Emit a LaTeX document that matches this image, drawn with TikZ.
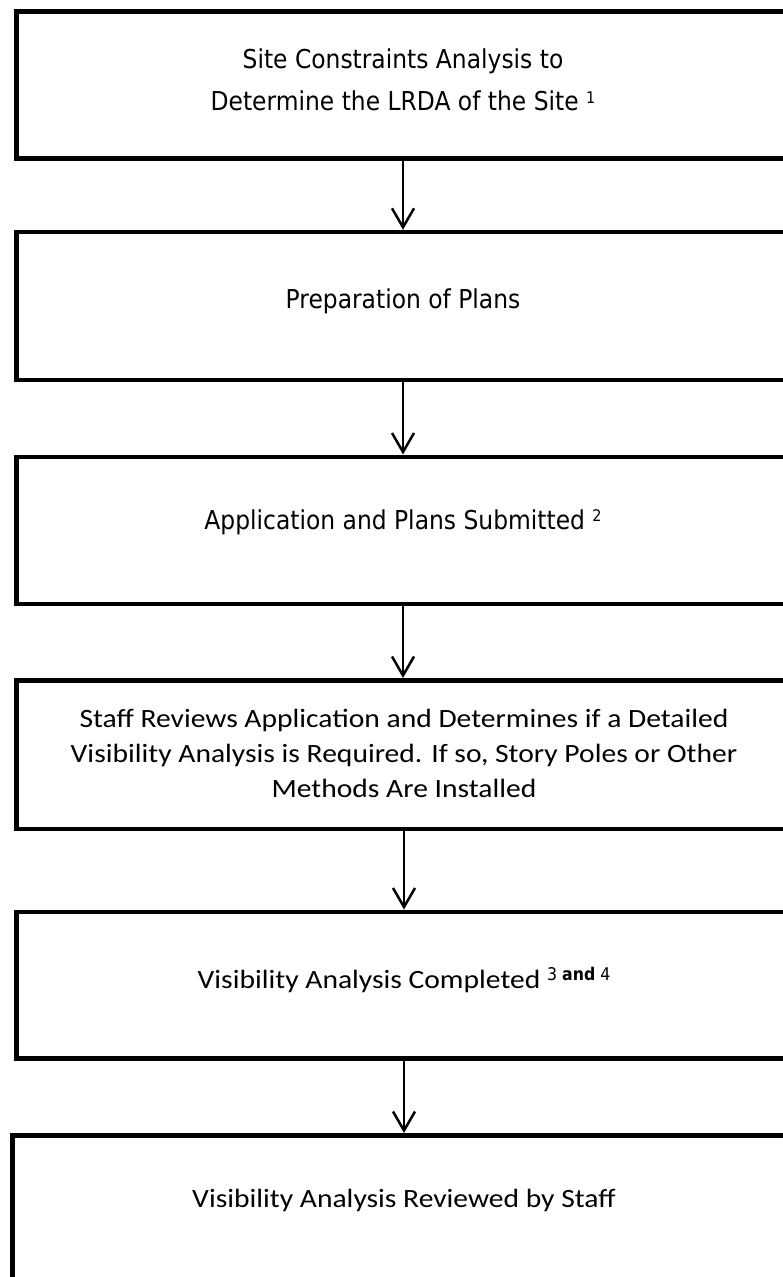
\documentclass[tikz,border=0pt]{standalone}
\usepackage{fontspec}
\usepackage{tikz}
\usetikzlibrary{arrows.meta}
\newfontfamily\verdfont[FakeStretch=0.9]{DejaVu Sans}
\newfontfamily\calfont[FakeStretch=1.12]{Carlito}

\begin{document}
\begin{tikzpicture}[x=1pt,y=-1pt,
  stage/.style={draw, line width=4.5pt, anchor=north west, minimum width=900pt, inner sep=0pt},
  tahtext/.style={inner sep=0pt, align=center, font=\verdfont\fontsize{26}{42.4}\selectfont},
  caltext/.style={inner sep=0pt, align=center, font=\calfont\fontsize{26.4}{35}\selectfont},
  arr/.style={line width=2.5pt, -{Straight Barb[length=19pt, width=22pt]}}]
\useasboundingbox (0,0) rectangle (782,1277);
% boxes
\node [stage, minimum height=147pt] (b1) at (14,9) {};
\node [stage, minimum height=148pt] (b2) at (14,229.8) {};
\node [stage, minimum height=147pt] (b3) at (14,454.5) {};
\node [stage, minimum height=148.5pt] (b4) at (14,678) {};
\node [stage, minimum height=146.5pt] (b5) at (14,909.5) {};
\node [stage, minimum height=200pt] (b6) at (10,1133) {};
% texts
\node [tahtext] (t1) at (403,79.6) {Site Constraints Analysis to\\Determine the LRDA of the Site {\fontsize{16}{16}\selectfont\raisebox{7pt}{1}}};
\node [tahtext, anchor=base] (t2) at (403,308) {Preparation of Plans};
\node [tahtext, anchor=base] (t3) at (403,529) {Application and Plans Submitted {\fontsize{16}{16}\selectfont\raisebox{8pt}{2}}};
\node [caltext] (t4) at (404,753.7) {Staff Reviews Application and Determines if a Detailed\\Visibility Analysis is Required. If so, Story Poles or Other\\Methods Are Installed};
\node [caltext, anchor=base] (t5) at (404,988) {Visibility Analysis Completed {\verdfont\fontsize{17.5}{17.5}\selectfont\raisebox{8pt}{3 \bfseries and\mdseries{} 4}}};
\node [caltext, anchor=base] (t6) at (404,1207) {Visibility Analysis Reviewed by Staff};
% arrows
\draw [arr] (b1.south -| t1) -- (b2.north -| t1);
\draw [arr] (b2.south -| t2) -- (b3.north -| t2);
\draw [arr] (b3.south -| t3) -- (b4.north -| t3);
\draw [arr] (b4.south -| t4) -- (b5.north -| t4);
\draw [arr] (b5.south -| t5) -- (b6.north -| t5);
\end{tikzpicture}
\end{document}
